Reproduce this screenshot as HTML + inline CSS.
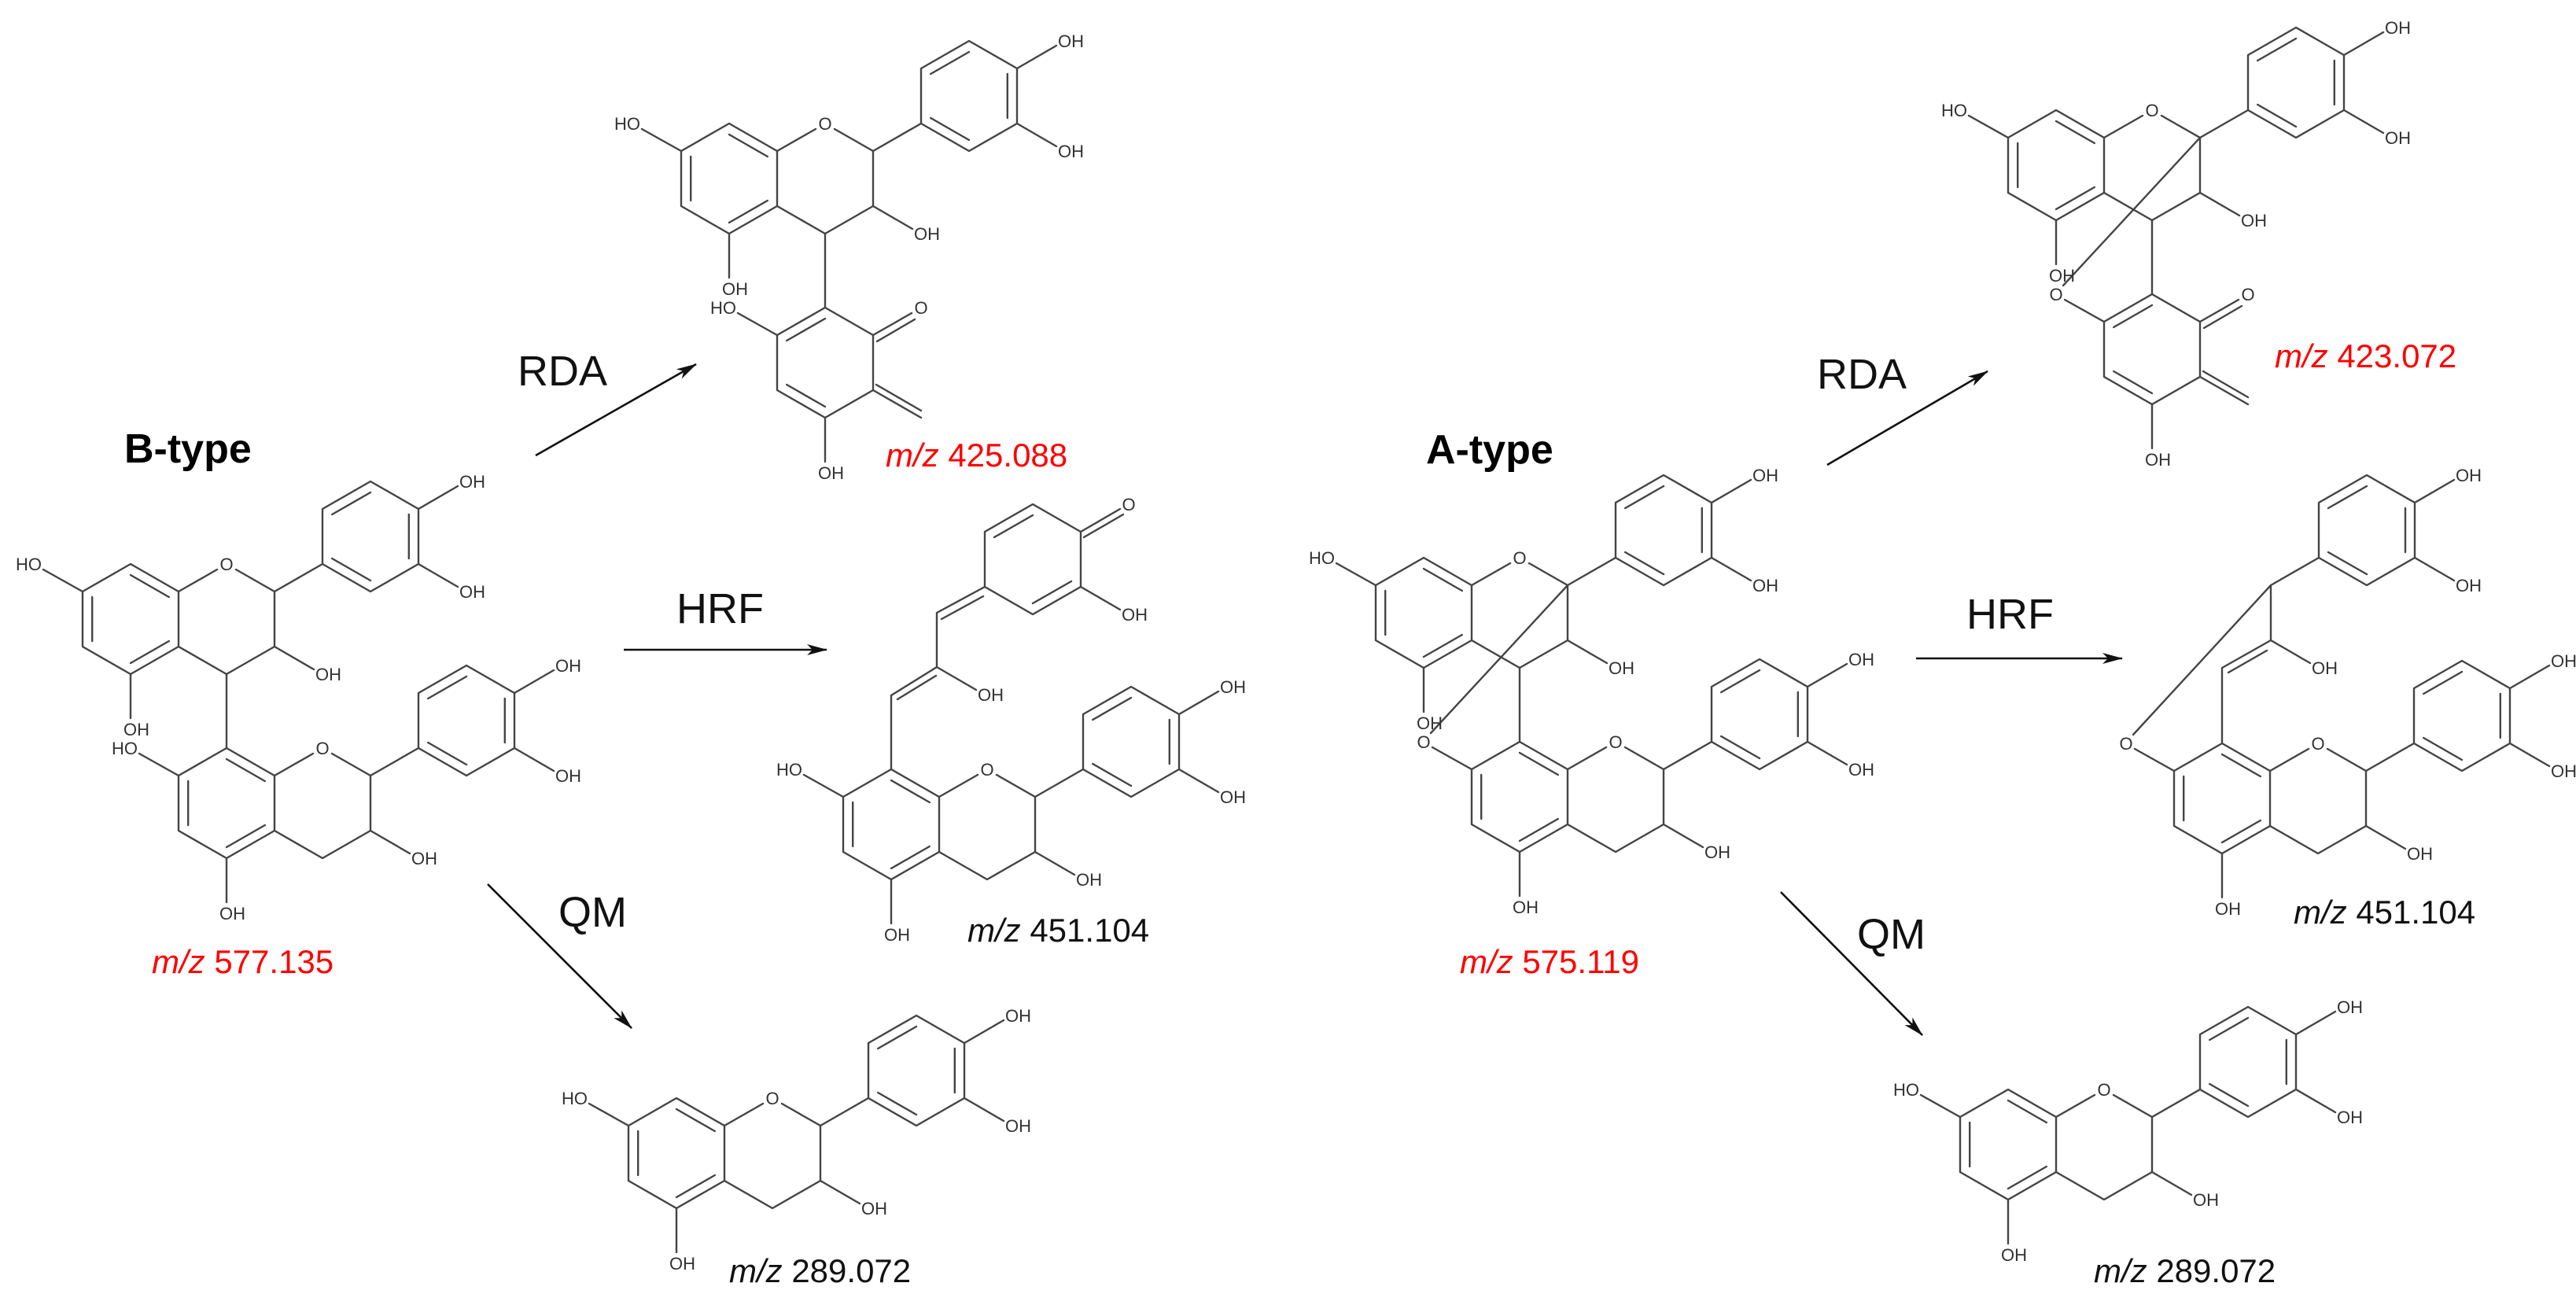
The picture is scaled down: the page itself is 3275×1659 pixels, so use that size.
<!DOCTYPE html>
<html><head><meta charset="utf-8"><style>
html,body{margin:0;padding:0;background:#fff;}
svg{display:block;}
.l{font-family:"Liberation Sans",sans-serif;font-size:22px;fill:#333;}
.c{text-anchor:middle;}
.e{text-anchor:end;}
.m{font-family:"Liberation Sans",sans-serif;font-size:42px;fill:#111;}
.r{fill:#ff0000;}
.t{font-family:"Liberation Sans",sans-serif;font-size:54px;fill:#111;}
.b{font-family:"Liberation Sans",sans-serif;font-size:52px;font-weight:bold;fill:#000;}
.bd{fill:none;stroke:#444;stroke-width:2.4;stroke-linecap:round;stroke-linejoin:round;}
.ar{fill:none;stroke:#111;stroke-width:2.6;}
</style></head><body>
<svg width="3275" height="1659" viewBox="0 0 3275 1659" xmlns="http://www.w3.org/2000/svg">
<defs>
<marker id="ah" markerUnits="userSpaceOnUse" viewBox="0 0 26 14" refX="25" refY="7" markerWidth="26" markerHeight="14" orient="auto">
<path d="M0,0 L26,7 L0,14 L7,7 Z" fill="#111"/>
</marker>
<g id="cat" class="bd">
<path d="M0,0 L61,35 L61,105 L0,140 L-61,105 L-61,35 Z"/>
<path d="M61,35 L110,7 M134,7 L183,35 L183,105 L122,140 L61,105"/>
<path d="M183,35 L244,0 L244,-70 L305,-105 L366,-70 L366,0 L305,35 L244,0"/>
<path d="M0,14 L48.8,42 M48.8,98 L0,126 M-48.8,98 L-48.8,42"/>
<path d="M256.2,-63 L305,-91 M353.8,-63 L353.8,-7 M305,21 L256.2,-7"/>
<path d="M-61,35 L-111,7 M0,140 L0,196 M183,105 L233,134 M366,-70 L416,-99 M366,0 L416,29"/>
</g>
<g id="qm" class="bd">
<path d="M0,0 L61,35 L61,105 L0,140 L-61,105 L-61,35 Z"/>
<path d="M0,14 L-48.8,42 M-48.8,98 L0,126"/>
<path d="M61,35 L110,7 M66,43 L114,15"/>
<path d="M61,105 L122,140 M65,98 L122,131"/>
<path d="M-61,35 L-111,7 M0,140 L0,196"/>
</g>
</defs>

<!-- ===== B-type ===== -->
<text class="b" x="158" y="588">B-type</text>
<use href="#cat" x="166" y="717"/>
<path class="bd" d="M288,857 L288,951"/>
<use href="#cat" x="288" y="951"/>
<text class="l e" x="53" y="725">HO</text>
<text class="l" x="157" y="935">OH</text>
<text class="l" x="401" y="865">OH</text>
<text class="l c" x="288" y="725">O</text>
<text class="l" x="584" y="620">OH</text>
<text class="l" x="584" y="760">OH</text>
<text class="l e" x="175" y="959">HO</text>
<text class="l" x="279" y="1169">OH</text>
<text class="l" x="523" y="1099">OH</text>
<text class="l c" x="410" y="959">O</text>
<text class="l" x="706" y="854">OH</text>
<text class="l" x="706" y="994">OH</text>
<text class="m r" x="193" y="1237"><tspan font-style="italic">m/z</tspan> 577.135</text>

<!-- arrows B -->
<line class="ar" x1="681" y1="579" x2="885" y2="463" marker-end="url(#ah)"/>
<line class="ar" x1="793" y1="826" x2="1051" y2="826" marker-end="url(#ah)"/>
<line class="ar" x1="620" y1="1124" x2="803" y2="1307" marker-end="url(#ah)"/>
<text class="t" x="658" y="490">RDA</text>
<text class="t" x="860" y="792">HRF</text>
<text class="t" x="710" y="1178">QM</text>

<!-- RDA product B -->
<use href="#cat" x="927" y="157"/>
<path class="bd" d="M1049,297 L1049,391"/>
<use href="#qm" x="1049" y="391"/>
<text class="l e" x="814" y="165">HO</text>
<text class="l" x="918" y="375">OH</text>
<text class="l" x="1162" y="305">OH</text>
<text class="l c" x="1049" y="165">O</text>
<text class="l" x="1345" y="60">OH</text>
<text class="l" x="1345" y="200">OH</text>
<text class="l c" x="1171" y="399">O</text>
<text class="l e" x="936" y="399">HO</text>
<text class="l" x="1040" y="609">OH</text>
<text class="m r" x="1126" y="593"><tspan font-style="italic">m/z</tspan> 425.088</text>

<!-- HRF product B -->
<use href="#cat" x="1133" y="978"/>
<path class="bd" d="M1133,978 L1133,884 L1191,848 L1191,779 L1252,746 M1141,889 L1190,859 M1197,787 L1250,758 M1191,848 L1241,877"/>
<path class="bd" d="M1252,746 L1252,676 L1313,641 L1374,676 L1374,746 L1313,781 Z M1264,683 L1313,655 M1362,739 L1313,767 M1374,676 L1424,647 M1378,683 L1428,654 M1374,746 L1424,775"/>
<text class="l e" x="1020" y="986">HO</text>
<text class="l" x="1124" y="1196">OH</text>
<text class="l" x="1368" y="1126">OH</text>
<text class="l c" x="1255" y="986">O</text>
<text class="l" x="1551" y="881">OH</text>
<text class="l" x="1551" y="1021">OH</text>
<text class="l" x="1243" y="891">OH</text>
<text class="l c" x="1435" y="649">O</text>
<text class="l" x="1426" y="789">OH</text>
<text class="m" x="1230" y="1197"><tspan font-style="italic">m/z</tspan> 451.104</text>

<!-- QM product B -->
<use href="#cat" x="860" y="1396"/>
<text class="l e" x="747" y="1404">HO</text>
<text class="l" x="851" y="1614">OH</text>
<text class="l" x="1095" y="1544">OH</text>
<text class="l c" x="982" y="1404">O</text>
<text class="l" x="1278" y="1299">OH</text>
<text class="l" x="1278" y="1439">OH</text>
<text class="m" x="927" y="1630"><tspan font-style="italic">m/z</tspan> 289.072</text>

<!-- ===== A-type ===== -->
<text class="b" x="1813" y="589">A-type</text>
<use href="#cat" x="1810" y="709"/>
<path class="bd" d="M1932,849 L1932,943"/>
<use href="#cat" x="1932" y="943"/>
<path class="bd" d="M1819,932 L1993,744"/>
<text class="l e" x="1697" y="717">HO</text>
<text class="l" x="1801" y="927">OH</text>
<text class="l" x="2045" y="857">OH</text>
<text class="l c" x="1932" y="717">O</text>
<text class="l" x="2228" y="612">OH</text>
<text class="l" x="2228" y="752">OH</text>
<text class="l c" x="1810" y="951">O</text>
<text class="l" x="1923" y="1161">OH</text>
<text class="l" x="2167" y="1091">OH</text>
<text class="l c" x="2054" y="951">O</text>
<text class="l" x="2350" y="846">OH</text>
<text class="l" x="2350" y="986">OH</text>
<text class="m r" x="1856" y="1237"><tspan font-style="italic">m/z</tspan> 575.119</text>

<!-- arrows A -->
<line class="ar" x1="2323" y1="591" x2="2527" y2="472" marker-end="url(#ah)"/>
<line class="ar" x1="2436" y1="837" x2="2698" y2="837" marker-end="url(#ah)"/>
<line class="ar" x1="2264" y1="1134" x2="2444" y2="1316" marker-end="url(#ah)"/>
<text class="t" x="2310" y="494">RDA</text>
<text class="t" x="2500" y="799">HRF</text>
<text class="t" x="2361" y="1206">QM</text>

<!-- RDA product A -->
<use href="#cat" x="2614" y="140"/>
<path class="bd" d="M2736,280 L2736,374"/>
<use href="#qm" x="2736" y="374"/>
<path class="bd" d="M2623,363 L2797,175"/>
<text class="l e" x="2501" y="148">HO</text>
<text class="l" x="2605" y="358">OH</text>
<text class="l" x="2849" y="288">OH</text>
<text class="l c" x="2736" y="148">O</text>
<text class="l" x="3032" y="43">OH</text>
<text class="l" x="3032" y="183">OH</text>
<text class="l c" x="2858" y="382">O</text>
<text class="l c" x="2614" y="382">O</text>
<text class="l" x="2727" y="592">OH</text>
<text class="m r" x="2892" y="467"><tspan font-style="italic">m/z</tspan> 423.072</text>

<!-- HRF product A -->
<use href="#cat" x="2825" y="945"/>
<path class="bd" d="M2825,945 L2825,849 L2887,814 L2887,744 L2948,709 M2833,855 L2882,827 M2887,814 L2937,843 M2712,934 L2887,744"/>
<path class="bd" d="M2948,709 L2948,639 L3009,604 L3070,639 L3070,709 L3009,744 Z M2960,646 L3009,618 M3058,646 L3058,702 M3009,730 L2960,702 M3070,639 L3120,610 M3070,709 L3120,738"/>
<text class="l c" x="2703" y="953">O</text>
<text class="l" x="2816" y="1163">OH</text>
<text class="l" x="3060" y="1093">OH</text>
<text class="l c" x="2947" y="953">O</text>
<text class="l" x="3243" y="848">OH</text>
<text class="l" x="3243" y="988">OH</text>
<text class="l" x="2939" y="857">OH</text>
<text class="l" x="3122" y="612">OH</text>
<text class="l" x="3122" y="752">OH</text>
<text class="m" x="2916" y="1174"><tspan font-style="italic">m/z</tspan> 451.104</text>

<!-- QM product A -->
<use href="#cat" x="2553" y="1385"/>
<text class="l e" x="2440" y="1393">HO</text>
<text class="l" x="2544" y="1603">OH</text>
<text class="l" x="2788" y="1533">OH</text>
<text class="l c" x="2675" y="1393">O</text>
<text class="l" x="2971" y="1288">OH</text>
<text class="l" x="2971" y="1428">OH</text>
<text class="m" x="2662" y="1630"><tspan font-style="italic">m/z</tspan> 289.072</text>
</svg>
</body></html>
